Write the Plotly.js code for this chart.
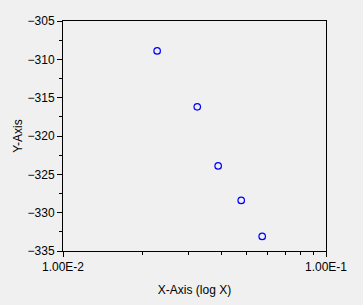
<!DOCTYPE html>
<html>
<head>
<meta charset="utf-8">
<script src="https://cdn.plot.ly/plotly-3.0.1.min.js"></script>
<style>html,body{margin:0;padding:0;background:#F0F0F0;}#chart{width:363px;height:305px;}</style>
</head>
<body>
<div id="chart"></div>
<script>
var xValues = [0.0228, 0.0324, 0.0389, 0.0476, 0.0572];
var yValues = [-308.9, -316.2, -323.9, -328.4, -333.1];
var xTickVals = [0.01, 0.1];
var xTickText = ["1.00E-2", "1.00E-1"];
var xMinorVals = [0.02, 0.03, 0.04, 0.05, 0.06, 0.07, 0.08, 0.09];

var trace = {
  x: xValues, y: yValues, type: 'scatter', mode: 'markers',
  marker: {symbol: 'circle-open', size: 6.5, color: '#0000FF', line: {width: 1.2, color: '#0000FF'}},
  hoverinfo: 'skip'
};
var font = {family: '"Liberation Sans", Arial, sans-serif', size: 12, color: '#000'};
var layout = {
  width: 363, height: 305,
  margin: {l: 63, r: 37, t: 21, b: 54, pad: 0},
  paper_bgcolor: '#F0F0F0', plot_bgcolor: '#F0F0F0',
  font: font, showlegend: false,
  xaxis: {
    type: 'log', range: [-2, -1], autorange: false,
    tickmode: 'array', tickvals: xTickVals, ticktext: xTickText,
    ticks: 'outside', ticklen: 5, tickwidth: 1, tickcolor: '#000',
    minor: {tickmode: 'array', tickvals: xMinorVals, ticks: 'outside', ticklen: 3, tickwidth: 1, tickcolor: '#000', showgrid: false},
    showgrid: false, zeroline: false,
    showline: true, linecolor: '#000', linewidth: 1, mirror: true,
    tickfont: font,
    title: {text: 'X-Axis (log X)', font: font, standoff: 12}
  },
  yaxis: {
    range: [-335, -305], autorange: false,
    tickmode: 'linear', tick0: -335, dtick: 5,
    ticks: 'outside', ticklen: 5, tickwidth: 1, tickcolor: '#000',
    minor: {dtick: 2.5, ticks: 'outside', ticklen: 3, tickwidth: 1, tickcolor: '#000', showgrid: false},
    showgrid: false, zeroline: false,
    showline: true, linecolor: '#000', linewidth: 1, mirror: true,
    tickfont: font,
    title: {text: 'Y-Axis', font: font, standoff: 2}
  }
};
Plotly.newPlot('chart', [trace], layout, {displayModeBar: false, staticPlot: true});
</script>
</body>
</html>
